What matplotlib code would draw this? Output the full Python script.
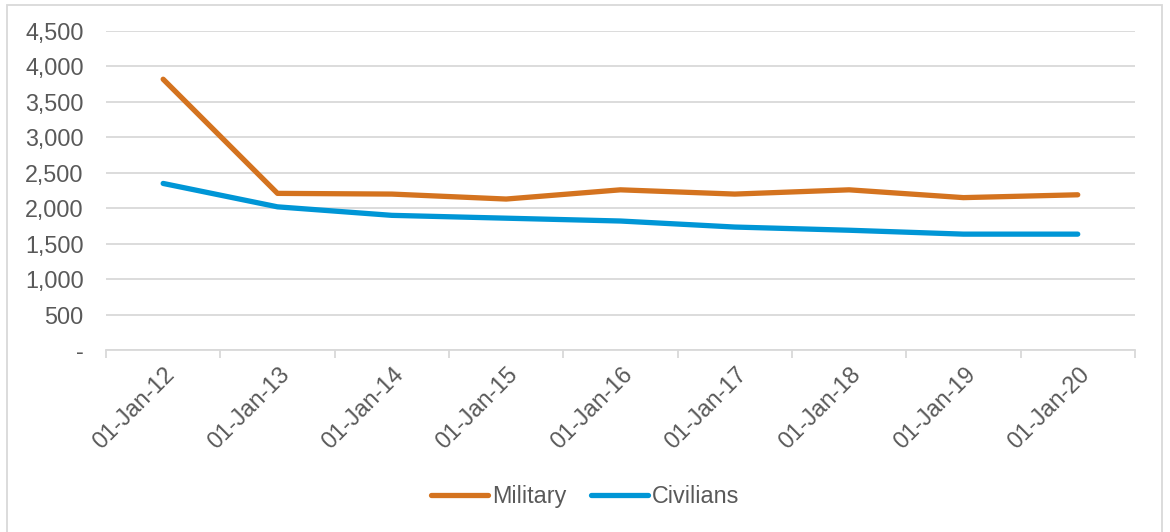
import matplotlib.pyplot as plt
from matplotlib.patches import Rectangle
from matplotlib.ticker import FuncFormatter, FixedLocator

plt.rcParams['font.family'] = ['Liberation Sans', 'DejaVu Sans']

dates = ["01-Jan-12", "01-Jan-13", "01-Jan-14", "01-Jan-15", "01-Jan-16",
         "01-Jan-17", "01-Jan-18", "01-Jan-19", "01-Jan-20"]
military = [3820, 2210, 2200, 2130, 2260, 2200, 2260, 2150, 2190]
civilians = [2350, 2020, 1900, 1860, 1820, 1735, 1690, 1635, 1635]

grey_text = "#595959"
grid_col = "#D9D9D9"
fs = 16.8

fig = plt.figure(figsize=(11.7, 5.32), dpi=100)
ax = fig.add_axes([0.0906, 0.342, 0.8794, 0.5997])

x = list(range(len(dates)))
ax.plot(x, military, color="#D4731F", lw=3.8, solid_capstyle="round", label="Military")
ax.plot(x, civilians, color="#0096D6", lw=3.8, solid_capstyle="round", label="Civilians")

ax.set_xlim(-0.5, len(dates) - 0.5)
ax.set_ylim(0, 4500)
ax.set_yticks(range(0, 4501, 500))
ax.yaxis.set_major_formatter(FuncFormatter(lambda v, p: "-" if v == 0 else f"{int(v):,}"))
ax.yaxis.grid(True, color=grid_col, lw=1.3)
ax.set_axisbelow(True)

ax.set_xticks(x)
ax.set_xticklabels(dates, rotation=45, ha="right", rotation_mode="anchor")
ax.xaxis.set_minor_locator(FixedLocator([i - 0.5 for i in range(len(dates) + 1)]))
ax.tick_params(axis="x", which="major", length=0, pad=9, labelsize=fs, colors=grey_text)
ax.tick_params(axis="x", which="minor", length=6, width=1.3, color=grid_col)
ax.tick_params(axis="y", length=0, pad=16, labelsize=fs, colors=grey_text)

for s in ["top", "right", "left"]:
    ax.spines[s].set_visible(False)
ax.spines["bottom"].set_color(grid_col)
ax.spines["bottom"].set_linewidth(1.3)

fig.legend(loc="center", bbox_to_anchor=(0.5, 0.066), ncol=2, frameon=False,
           fontsize=fs, labelcolor=grey_text, handlelength=2.45, handletextpad=0.18,
           columnspacing=1.05)

# light grey frame round the chart, open at the bottom like the reference crop
fig.patches.append(Rectangle((7 / 1170, -0.01), 1155 / 1170, 1 - 5 / 532 + 0.01,
                             transform=fig.transFigure, fill=False,
                             edgecolor=grid_col, lw=1.3))

fig.savefig("out.png", dpi=100)
